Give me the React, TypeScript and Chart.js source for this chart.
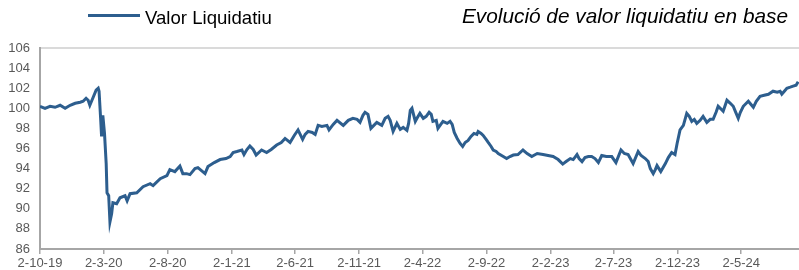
import React, { useEffect, useRef } from "react";
import { Chart, registerables } from "chart.js";

Chart.register(...registerables);

// Days elapsed since 2-10-19 for each reading
const days = [
  0, 12, 24, 36, 48, 60, 72, 84, 96, 103, 110, 115, 119, 127, 134, 139, 141, 145, 147, 150,
  154, 158, 160, 164, 167, 171, 174, 183, 191, 203, 208, 215, 231, 246, 263, 270, 287, 303, 310, 322,
  334, 341, 350, 358, 370, 377, 394, 401, 416, 430, 444, 454, 461, 470, 482, 487, 494, 501, 509, 516,
  529, 541, 552, 565, 576, 585, 597, 607, 616, 627, 633, 640, 650, 657, 664, 673, 685, 690, 700, 709,
  724, 736, 747, 757, 764, 771, 776, 783, 790, 804, 816, 824, 831, 836, 843, 852, 860, 867, 876, 880,
  884, 888, 896, 900, 907, 915, 922, 929, 934, 938, 946, 950, 962, 972, 979, 984, 989, 996, 1003, 1009,
  1015, 1022, 1029, 1036, 1043, 1046, 1053, 1058, 1065, 1070, 1077, 1082, 1089, 1094, 1106, 1114, 1122, 1130, 1141, 1153,
  1163, 1174, 1187, 1201, 1213, 1225, 1237, 1248, 1256, 1266, 1273, 1282, 1287, 1294, 1301, 1309, 1317, 1325, 1333, 1341,
  1352, 1365, 1375, 1387, 1395, 1404, 1416, 1428, 1435, 1445, 1452, 1457, 1464, 1469, 1473, 1482, 1493, 1500, 1508, 1516,
  1521, 1528, 1536, 1544, 1550, 1556, 1562, 1568, 1576, 1583, 1592, 1600, 1607, 1614, 1619, 1624, 1631, 1640, 1648, 1655,
  1660, 1667, 1672, 1679, 1691, 1703, 1710, 1719, 1729, 1739, 1750, 1760, 1767, 1771, 1777, 1783, 1791, 1798, 1805, 1810,
];

// Valor liquidatiu (base 100)
const values = [
  100.2, 100.0, 100.2, 100.1, 100.3, 100.0, 100.3, 100.5, 100.6, 100.7, 101.0, 100.8, 100.3, 101.1, 101.8, 102.0, 101.7, 98.8, 97.2, 99.3,
  97.5, 94.5, 91.6, 91.3, 88.7, 89.5, 90.6, 90.5, 91.1, 91.3, 90.8, 91.5, 91.6, 92.2, 92.5, 92.3, 93.0, 93.3, 93.9, 93.7,
  94.25, 93.5, 93.5, 93.4, 94.0, 94.1, 93.5, 94.2, 94.6, 94.9, 95.0, 95.2, 95.6, 95.7, 95.85, 95.4, 95.9, 96.25, 95.9, 95.35,
  95.85, 95.6, 95.9, 96.35, 96.6, 97.0, 96.6, 97.3, 97.85, 96.9, 97.4, 97.7, 97.6, 97.4, 98.3, 98.2, 98.3, 97.85, 98.4, 98.8,
  98.3, 98.8, 99.0, 98.9, 98.6, 99.3, 99.6, 99.4, 98.0, 98.6, 98.3, 99.0, 99.2, 98.8, 97.7, 98.5, 97.9, 98.1, 97.8, 98.5,
  99.8, 100.0, 98.7, 99.0, 99.5, 99.0, 99.2, 99.6, 99.4, 98.7, 98.8, 98.0, 98.7, 98.5, 98.7, 98.4, 97.6, 97.0, 96.5, 96.2,
  96.6, 96.8, 97.2, 97.5, 97.4, 97.7, 97.5, 97.3, 96.9, 96.6, 96.2, 95.85, 95.7, 95.5, 95.2, 95.0, 95.2, 95.35, 95.4, 95.85,
  95.5, 95.2, 95.5, 95.4, 95.3, 95.2, 94.9, 94.45, 94.7, 95.0, 94.9, 95.4, 95.0, 94.7, 95.1, 95.2, 95.2, 95.0, 94.6, 95.3,
  95.2, 95.2, 94.6, 95.85, 95.5, 95.4, 94.5, 95.7, 95.3, 95.0, 94.7, 94.0, 93.5, 93.9, 94.3, 93.7, 94.5, 95.1, 95.6, 95.4,
  96.5, 97.85, 98.3, 99.5, 99.2, 98.7, 98.9, 98.5, 98.8, 99.2, 98.6, 98.9, 98.9, 99.6, 100.2, 100.0, 99.7, 100.8, 100.5, 100.2,
  99.7, 99.0, 99.6, 100.2, 100.7, 100.1, 100.7, 101.2, 101.3, 101.4, 101.7, 101.6, 101.7, 101.4, 101.7, 102.0, 102.1, 102.2, 102.3, 102.65,
];

const tickDays = [0, 152, 305, 458, 609, 762, 913, 1066, 1219, 1369, 1522, 1674];
const tickLabels = ["2-10-19", "2-3-20", "2-8-20", "2-1-21", "2-6-21", "2-11-21", "2-4-22", "2-9-22", "2-2-23", "2-7-23", "2-12-23", "2-5-24"];

const LINE = "#2D5E8E";
const AXIS = "#A6A6A6";
const LABEL = "#595959";
const FONT = "Arial, 'Liberation Sans', sans-serif";

export default function App() {
  const ref = useRef<HTMLCanvasElement | null>(null);

  useEffect(() => {
    if (!ref.current) return;
    const chart = new Chart(ref.current, {
      type: "line",
      data: {
        datasets: [
          {
            label: "Valor Liquidatiu",
            data: days.map((d, i) => ({ x: d, y: values[i] })),
            borderColor: LINE,
            backgroundColor: LINE,
            borderWidth: 3,
            pointRadius: 0,
            tension: 0,
          },
        ],
      },
      options: {
        responsive: false,
        animation: false,
        layout: { padding: { top: 48, left: 0, right: 0, bottom: 0 } },
        plugins: { legend: { display: false }, title: { display: false }, tooltip: { enabled: false } },
        scales: {
          x: {
            type: "linear",
            min: 0,
            max: 1812,
            afterBuildTicks: (scale: any) => {
              scale.ticks = tickDays.map((v) => ({ value: v }));
            },
            afterFit: (scale: any) => {
              scale.height = 21;
            },
            ticks: {
              autoSkip: false,
              maxRotation: 0,
              minRotation: 0,
              padding: 2,
              color: LABEL,
              font: { family: FONT, size: 13 },
              callback: (v: any) => {
                const idx = tickDays.indexOf(Number(v));
                return idx >= 0 ? tickLabels[idx] : "";
              },
            },
            grid: { drawOnChartArea: false, drawTicks: true, tickLength: 5, color: AXIS, lineWidth: 1.5 },
            border: { display: true, color: AXIS, width: 2 },
          },
          y: {
            min: 86,
            max: 106,
            afterFit: (scale: any) => {
              scale.width = 40;
            },
            ticks: {
              stepSize: 2,
              padding: 10,
              color: LABEL,
              font: { family: FONT, size: 13 },
            },
            grid: {
              drawTicks: false,
              tickLength: 0,
              lineWidth: 2,
              color: (c: any) => (c.tick && c.tick.value === 106 ? "#DADADA" : "rgba(0,0,0,0)"),
            },
            border: { display: true, color: AXIS, width: 2 },
          },
        },
      },
    });
    return () => chart.destroy();
  }, []);

  return (
    <div style={{ position: "fixed", left: 0, top: 0, width: 799, height: 270, background: "#fff", fontFamily: FONT }}>
      <canvas ref={ref} width={799} height={270} style={{ position: "absolute", left: 0, top: 0 }} />
      <div style={{ position: "absolute", left: 88, top: 14, width: 52, height: 3, background: LINE }} />
      <div style={{ position: "absolute", left: 145, top: 6, fontSize: 18.6, lineHeight: "24px", color: "#000", whiteSpace: "nowrap" }}>
        Valor Liquidatiu
      </div>
      <div style={{ position: "absolute", right: 11, top: 3, fontSize: 20.8, lineHeight: "26px", fontStyle: "italic", color: "#000", whiteSpace: "nowrap" }}>
        Evolució de valor liquidatiu en base
      </div>
    </div>
  );
}
